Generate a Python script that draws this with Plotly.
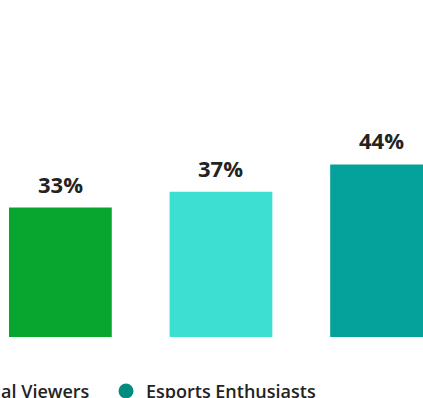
import plotly.graph_objects as go

# Share of each audience segment (percent)
segments = ["All Viewers", "Casual Viewers", "Esports Enthusiasts"]
shares = [33, 37, 44]
bar_colors = ["#08A62F", "#3EDFD3", "#04A29A"]

# Segments listed in the legend row under the bars, each with its own legend box
legend_segments = ["Casual Viewers", "Esports Enthusiasts"]
legend_colors = ["#3EDFD3", "#018C80"]
legend_ids = ["legend", "legend2"]
legend_left_px = [-81, 106]

FONT = "Open Sans"
TEXT_COLOR = "#232323"
W, H = 423, 398

fig = go.Figure()

# Bars, one trace per segment
for seg, val, col in zip(segments, shares, bar_colors):
    fig.add_trace(go.Bar(
        x=[seg], y=[val], marker=dict(color=col, line=dict(width=0)),
        showlegend=False, hoverinfo="skip", width=0.64,
    ))

# Legend entries drawn as round markers
for seg, col, lid in zip(legend_segments, legend_colors, legend_ids):
    fig.add_trace(go.Scatter(
        x=[None], y=[None], mode="markers", name=seg, legend=lid,
        marker=dict(color=col, size=15, symbol="circle"),
    ))

# Value labels above each bar
for seg, val in zip(segments, shares):
    fig.add_annotation(
        x=seg, y=val, text=f"{val}%", showarrow=False,
        yanchor="bottom", yshift=7,
        font=dict(family=FONT, size=22, color=TEXT_COLOR, weight=700),
    )

legend_style = dict(
    orientation="h", xanchor="left", yanchor="middle", y=-0.161,
    font=dict(family=FONT, size=18, color=TEXT_COLOR, weight=600),
    itemsizing="trace", bgcolor="rgba(0,0,0,0)",
)

fig.update_layout(
    width=W, height=H,
    margin=dict(l=0, r=0, t=0, b=61, autoexpand=False),
    paper_bgcolor="white", plot_bgcolor="white",
    barmode="overlay",
    xaxis=dict(type="category", categoryorder="array", categoryarray=segments,
               range=[-0.376, 2.258], visible=False, fixedrange=True),
    yaxis=dict(range=[0, 85.9], visible=False, fixedrange=True),
    legend=dict(x=legend_left_px[0] / W, **legend_style),
    legend2=dict(x=legend_left_px[1] / W, **legend_style),
)

fig.write_html("out.html")
